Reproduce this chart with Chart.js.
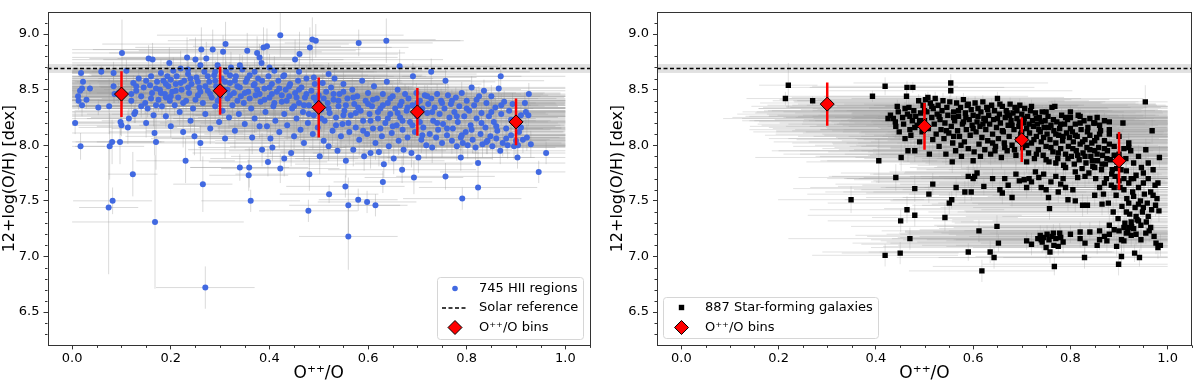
<!DOCTYPE html>
<html>
<head>
<meta charset="utf-8">
<script src="https://cdn.jsdelivr.net/npm/chart.js@4.4.1/dist/chart.umd.min.js"></script>
<style>
  body { margin: 0; background: #fff; }
  .panel { position: absolute; top: 0; width: 600px; height: 384px; }
</style>
</head>
<body>
<div class="panel" style="left:0"><canvas id="hiiChart" width="600" height="384"></canvas></div>
<div class="panel" style="left:600px"><canvas id="sfgChart" width="600" height="384"></canvas></div>
<script>
// Axis ranges and ticks (same for both panels)
const xMin = -0.05, xMax = 1.05;
const yMin = 6.2, yMax = 9.2;
const xTicks = [0.0, 0.2, 0.4, 0.6, 0.8, 1.0];
const yTicks = [6.5, 7.0, 7.5, 8.0, 8.5, 9.0];
const xMinorTicks = [0.05, 0.1, 0.15, 0.25, 0.3, 0.35, 0.45, 0.5, 0.55, 0.65, 0.7, 0.75, 0.85, 0.9, 0.95, 1.05];
const yMinorTicks = [6.3, 6.4, 6.6, 6.7, 6.8, 6.9, 7.1, 7.2, 7.3, 7.4, 7.6, 7.7, 7.8, 7.9, 8.1, 8.2, 8.3, 8.4, 8.6, 8.7, 8.8, 8.9, 9.1];

// Solar reference value and its uncertainty band
const solarValue = 8.69;
const solarBand = [8.65, 8.73];

// Binned medians: left = HII regions, right = star-forming galaxies
const hiiBinX = [0.1, 0.3, 0.5, 0.7, 0.9];
const hiiBinY = [8.46, 8.49, 8.34, 8.30, 8.21];
const hiiBinErr = [0.205, 0.215, 0.27, 0.215, 0.21];
const sfgBinX = [0.3, 0.5, 0.7, 0.9];
const sfgBinY = [8.37, 8.17, 8.05, 7.86];
const sfgBinErr = [0.195, 0.21, 0.2, 0.26];

// HII regions: [O++/O, 12+log(O/H), x error, y error]
const hiiRegions = [
  [.006,8.20,.08,.1],[.017,7.99,.05,.12],[.012,8.44,.1,.06],[.013,8.40,.12,.08],[.016,8.49,.06,.07],[.018,8.65,.15,.05],[.022,8.57,.08,.06],[.02,8.51,.1,.05],[.02,8.36,.14,.1],[.029,8.41,.07,.08],[.036,8.51,.06,.05],[.053,8.34,.09,.07],[.059,8.66,.12,.05],[.074,7.44,.06,.6],[.082,7.50,.08,.12],[.076,7.99,.07,.3],[.081,8.03,.1,.2],[.075,8.35,.13,.25],[.084,8.65,.15,.1],[.084,8.53,.2,.15],[.086,8.46,.1,.08],[.101,8.83,.12,.3],[.097,8.03,.09,.2],[.098,8.21,.2,.12],[.1,8.18,.15,.1],[.094,8.47,.11,.09],
  [.11,8.67,.2,.1],[.113,8.16,.1,.15],[.115,8.24,.12,.09],[.123,7.74,.05,.2],[.126,8.28,.15,.08],[.128,8.30,.2,.1],[.12,8.40,.25,.12],[.124,8.56,.18,.07],[.13,8.49,.3,.1],[.135,8.60,.22,.08],[.14,8.44,.12,.15],[.145,8.52,.28,.09],[.148,8.38,.2,.1],[.15,8.20,.15,.13],[.153,8.33,.26,.08],[.155,8.78,.12,.12],[.158,8.54,.35,.1],[.16,8.62,.2,.07],[.162,8.47,.15,.12],[.163,8.77,.1,.15],[.165,8.27,.3,.1],[.167,8.11,.18,.2],[.168,7.31,.18,.6],[.17,8.03,.12,.25],[.172,8.57,.25,.08],[.175,8.41,.22,.11],[.178,8.50,.3,.09],[.18,8.65,.18,.12],[.182,8.35,.4,.1],[.185,8.58,.15,.08],[.188,8.46,.28,.13],[.19,8.26,.2,.1],[.193,8.62,.32,.09],[.195,8.53,.24,.11],[.197,8.74,.2,.14],[.198,8.40,.35,.12],[.2,8.17,.15,.1],[.2,8.59,.3,.08],
  [.203,8.48,.25,.1],[.205,8.67,.38,.12],[.208,8.36,.2,.09],[.21,8.55,.3,.11],[.212,8.62,.18,.07],[.215,8.43,.4,.1],[.218,8.30,.22,.12],[.22,8.69,.3,.16],[.222,8.50,.26,.08],[.225,8.12,.15,.14],[.227,8.58,.35,.1],[.23,7.86,.1,.2],[.231,8.40,.28,.09],[.233,8.79,.25,.18],[.235,8.64,.2,.1],[.237,8.47,.33,.12],[.24,8.22,.18,.1],[.242,8.55,.3,.09],[.245,8.33,.22,.13],[.248,8.08,.14,.17],[.25,8.77,.3,.2],[.252,8.61,.26,.11],[.255,8.45,.4,.1],[.258,8.52,.2,.08],[.26,8.02,.16,.16],[.262,8.86,.22,.2],[.265,7.65,.06,.25],[.265,8.38,.3,.12],[.268,8.66,.35,.09],[.27,6.72,.1,.19],[.27,8.28,.24,.1],[.272,8.78,.18,.15],[.275,8.49,.32,.1],[.278,8.57,.2,.12],[.28,8.15,.2,.14],[.283,8.43,.36,.09],[.285,8.86,.3,.18],[.288,8.63,.25,.1],[.29,8.35,.28,.13],[.292,8.53,.2,.08],[.295,8.72,.34,.12],[.298,8.21,.18,.1],[.3,8.44,.3,.11],
  [.303,8.60,.25,.1],[.305,8.31,.3,.12],[.306,8.84,.2,.15],[.308,8.50,.38,.09],[.31,8.06,.15,.18],[.311,8.91,.25,.2],[.312,8.66,.3,.1],[.315,8.42,.22,.13],[.318,8.25,.28,.1],[.32,8.56,.35,.09],[.322,8.70,.2,.14],[.325,8.36,.3,.11],[.328,8.47,.25,.1],[.33,8.13,.18,.16],[.332,8.62,.32,.08],[.335,8.53,.28,.12],[.338,8.28,.22,.1],[.34,7.80,.1,.12],[.342,8.44,.35,.1],[.345,8.68,.3,.13],[.348,8.38,.25,.09],[.35,8.19,.2,.14],[.352,8.57,.3,.1],[.355,8.85,.22,.16],[.357,8.48,.4,.11],[.358,7.73,.08,.14],[.359,7.80,.12,.18],[.36,8.63,.28,.09],[.362,7.50,.1,.1],[.363,8.33,.3,.12],[.365,8.07,.2,.15],[.368,8.54,.26,.1],[.37,8.24,.34,.13],[.372,8.45,.22,.08],[.375,8.83,.3,.15],[.377,8.60,.25,.1],[.38,8.79,.28,.12],[.38,8.17,.18,.11],[.382,8.39,.36,.1],[.384,8.74,.2,.14],[.385,7.96,.15,.15],[.388,8.88,.26,.18],[.39,8.51,.3,.1],[.392,8.30,.24,.12],[.395,8.17,.2,.1],[.395,8.89,.15,.16],[.397,7.85,.12,.13],[.398,8.62,.32,.09],
  [.4,8.43,.28,.11],[.402,8.06,.2,.14],[.405,8.55,.35,.1],[.406,7.98,.15,.12],[.408,8.35,.25,.1],[.41,8.67,.3,.13],[.412,8.22,.22,.1],[.415,8.48,.38,.09],[.418,8.58,.25,.12],[.42,8.12,.2,.15],[.422,7.79,.12,.13],[.422,8.99,.25,.2],[.425,8.39,.3,.1],[.428,8.62,.28,.09],[.43,7.88,.15,.16],[.43,8.28,.35,.12],[.433,8.50,.22,.1],[.436,8.18,.3,.13],[.44,8.44,.26,.09],[.442,8.55,.32,.11],[.444,7.93,.2,.12],[.446,8.33,.28,.1],[.45,8.08,.22,.15],[.452,8.77,.3,.18],[.452,8.47,.35,.1],[.455,8.24,.25,.12],[.458,8.58,.3,.09],[.46,8.38,.38,.11],[.461,8.82,.2,.2],[.463,8.14,.26,.13],[.465,8.52,.3,.1],[.468,8.30,.22,.09],[.47,8.02,.18,.16],[.472,8.43,.34,.1],[.475,8.60,.28,.12],[.478,8.20,.3,.1],[.479,7.41,.1,.1],[.48,8.36,.25,.11],[.481,7.74,.15,.15],[.482,8.88,.2,.18],[.485,8.49,.36,.1],[.487,8.95,.25,.2],[.488,8.10,.22,.14],[.49,8.27,.3,.1],[.492,8.55,.26,.09],[.494,8.94,.3,.15],[.495,8.40,.32,.12],[.498,8.16,.24,.11],
  [.5,8.45,.3,.1],[.502,7.90,.18,.16],[.505,8.32,.35,.12],[.508,8.56,.25,.09],[.51,8.04,.22,.14],[.512,8.22,.3,.1],[.515,8.48,.28,.11],[.518,8.38,.36,.1],[.52,7.99,.2,.13],[.521,7.56,.1,.08],[.522,8.29,.26,.12],[.525,8.52,.3,.09],[.528,8.13,.24,.15],[.53,8.41,.32,.1],[.532,8.60,.2,.12],[.535,8.25,.28,.1],[.538,7.95,.22,.14],[.54,8.35,.35,.11],[.542,8.46,.25,.09],[.545,8.08,.3,.13],[.548,8.19,.22,.1],[.55,8.55,.28,.12],[.552,8.31,.34,.1],[.554,7.63,.12,.1],[.555,7.86,.2,.15],[.558,8.42,.3,.09],[.56,7.18,.1,.3],[.56,7.46,.12,.25],[.562,8.12,.26,.12],[.565,8.27,.32,.1],[.568,8.50,.25,.11],[.57,7.96,.22,.15],[.572,8.37,.3,.1],[.575,8.16,.28,.12],[.578,8.44,.34,.09],[.58,7.51,.08,.1],[.581,8.92,.15,.12],[.582,8.05,.25,.14],[.585,8.31,.3,.1],[.588,8.58,.22,.12],[.59,8.22,.35,.1],[.592,7.90,.2,.13],[.595,8.40,.28,.09],[.598,7.49,.1,.1],[.598,8.10,.3,.12],
  [.6,8.47,.3,.1],[.603,8.28,.25,.12],[.605,7.93,.22,.14],[.608,8.35,.35,.1],[.61,8.15,.28,.11],[.612,8.53,.2,.09],[.615,7.46,.05,.1],[.615,8.02,.3,.15],[.618,8.42,.26,.1],[.62,8.24,.32,.12],[.622,7.94,.2,.13],[.625,8.33,.3,.1],[.628,8.08,.25,.14],[.63,7.67,.1,.1],[.63,8.46,.28,.09],[.632,7.83,.18,.12],[.635,8.20,.35,.1],[.637,8.94,.15,.2],[.638,8.57,.22,.12],[.64,8.38,.3,.1],[.642,7.99,.26,.15],[.645,8.28,.32,.11],[.648,8.11,.24,.12],[.65,8.44,.3,.1],[.652,7.88,.2,.14],[.655,8.33,.28,.09],[.658,8.18,.34,.12],[.66,8.50,.25,.1],[.662,8.04,.3,.13],[.664,8.71,.2,.15],[.665,8.25,.32,.1],[.668,8.39,.26,.11],[.669,7.78,.15,.12],[.67,8.14,.3,.1],[.672,7.96,.22,.14],[.675,8.46,.28,.09],[.678,8.31,.34,.12],[.68,8.07,.25,.1],[.682,8.42,.3,.11],[.685,8.21,.28,.12],[.688,7.93,.2,.13],[.69,8.36,.32,.1],[.691,8.62,.22,.12],[.693,7.71,.1,.15],[.695,8.12,.3,.1],[.698,8.47,.26,.09],
  [.7,8.26,.3,.11],[.702,7.89,.2,.14],[.705,8.40,.32,.1],[.708,8.05,.26,.12],[.71,8.33,.3,.1],[.712,8.16,.28,.13],[.715,8.45,.25,.09],[.718,8.00,.3,.12],[.72,8.29,.34,.1],[.722,8.37,.26,.11],[.725,8.10,.28,.12],[.728,8.66,.2,.12],[.728,8.42,.3,.1],[.73,7.98,.25,.14],[.732,8.22,.32,.1],[.735,8.34,.28,.11],[.738,8.07,.3,.12],[.74,8.46,.25,.09],[.742,8.14,.3,.12],[.745,8.28,.27,.1],[.748,8.40,.3,.11],[.75,8.02,.25,.13],[.752,8.19,.28,.1],[.755,8.33,.25,.12],[.757,7.72,.1,.12],[.757,8.58,.2,.1],[.76,8.09,.25,.13],[.762,8.45,.24,.1],[.765,8.25,.26,.11],[.768,8.37,.23,.1],[.77,8.04,.25,.12],[.772,8.15,.22,.1],[.775,8.30,.24,.11],[.778,8.43,.22,.09],[.78,7.99,.23,.13],[.782,8.21,.22,.1],[.785,8.35,.2,.11],[.788,7.89,.15,.12],[.788,8.07,.2,.12],[.79,8.47,.2,.1],[.791,7.52,.12,.1],[.792,8.02,.2,.12],[.795,8.26,.21,.1],[.798,8.12,.2,.11],
  [.8,8.40,.3,.1],[.802,8.00,.28,.12],[.805,8.31,.32,.1],[.808,8.18,.25,.11],[.81,8.52,.3,.1],[.812,8.05,.35,.12],[.815,8.36,.28,.1],[.818,7.98,.3,.13],[.82,8.24,.33,.1],[.823,7.62,.12,.1],[.823,7.84,.25,.12],[.825,8.44,.3,.09],[.828,8.10,.28,.12],[.83,8.29,.35,.1],[.832,8.01,.3,.12],[.835,8.49,.26,.1],[.838,8.16,.32,.11],[.84,8.38,.28,.1],[.842,8.04,.3,.12],[.845,8.26,.34,.1],[.848,8.08,.27,.12],[.85,8.44,.3,.1],[.852,7.99,.32,.12],[.855,8.21,.28,.1],[.858,8.34,.3,.1],[.86,8.06,.35,.12],[.862,8.13,.26,.1],[.865,8.51,.3,.1],[.868,7.95,.28,.12],[.869,8.62,.2,.1],[.87,8.28,.32,.1],[.873,8.02,.3,.12],[.876,8.39,.27,.1],[.88,8.15,.33,.11],[.883,8.00,.3,.12],[.886,8.31,.28,.1],[.89,8.09,.32,.12],[.893,8.37,.3,.1],[.896,7.99,.26,.12],[.9,8.22,.3,.11],[.903,7.89,.28,.1],[.904,8.00,.3,.12],[.906,8.12,.33,.11],[.91,8.27,.3,.1],[.914,8.05,.28,.12],[.918,8.38,.3,.1],[.922,8.07,.32,.12],[.925,8.27,.3,.1],[.926,8.46,.25,.1],[.93,8.01,.3,.12],[.946,7.76,.2,.1],[.961,7.93,.15,.1],
  [.16,8.42,.25,.1],[.17,8.51,.3,.09],[.18,8.47,.2,.1],[.19,8.55,.28,.08],[.2,8.44,.33,.11],[.21,8.49,.25,.1],[.22,8.56,.3,.08],[.225,8.38,.22,.12],[.235,8.52,.28,.1],[.24,8.60,.35,.09],[.25,8.41,.3,.1],[.255,8.57,.25,.08],[.26,8.48,.3,.11],[.27,8.53,.33,.09],[.275,8.62,.28,.1],[.28,8.46,.25,.12],[.29,8.58,.3,.09],[.295,8.40,.35,.1],[.3,8.52,.28,.1],[.31,8.57,.3,.09],[.315,8.50,.25,.11],[.32,8.45,.33,.1],[.33,8.58,.3,.08],[.335,8.40,.28,.12],[.34,8.52,.35,.1],[.35,8.47,.3,.1],[.355,8.60,.25,.09],[.36,8.42,.3,.11],[.37,8.55,.28,.1],[.375,8.50,.33,.09],[.38,8.46,.3,.1],[.385,8.58,.26,.09],[.39,8.41,.3,.12],[.4,8.52,.28,.1],[.405,8.46,.33,.1],[.41,8.38,.3,.12],[.42,8.51,.28,.09],[.425,8.45,.3,.1],[.435,8.40,.33,.11],[.44,8.53,.25,.1],[.45,8.35,.3,.12],[.455,8.43,.28,.1],[.46,8.50,.3,.09],[.47,8.36,.33,.11],[.475,8.46,.3,.1],[.48,8.28,.25,.12],[.49,8.43,.3,.1],[.5,8.38,.28,.11],[.505,8.24,.3,.12],[.51,8.42,.33,.1],[.52,8.33,.3,.11],[.53,8.46,.28,.09],[.535,8.18,.3,.12],[.54,8.40,.25,.1],[.55,8.27,.3,.11],[.555,8.36,.33,.1],[.56,8.20,.3,.12],[.57,8.43,.28,.09],[.575,8.29,.3,.11],[.58,8.34,.33,.1],[.59,8.13,.3,.12],[.6,8.37,.28,.1],[.605,8.22,.3,.11],[.61,8.41,.25,.1],[.62,8.30,.3,.11],[.625,8.15,.33,.12],[.63,8.36,.3,.1],[.64,8.24,.28,.11],[.645,8.42,.3,.09],[.65,8.17,.33,.12],[.66,8.29,.3,.1],[.665,8.36,.28,.11],[.67,8.22,.3,.1],[.68,8.34,.33,.1],[.69,8.18,.3,.12],[.7,8.38,.28,.1],[.705,8.21,.3,.11],[.71,8.09,.33,.12],[.72,8.44,.3,.1],[.73,8.30,.28,.11],[.74,8.20,.3,.12],[.75,8.38,.33,.1],[.76,8.15,.3,.11],[.77,8.40,.28,.1],[.78,8.26,.3,.11],[.79,8.09,.33,.12],[.8,8.33,.3,.1],[.81,8.14,.28,.11],[.82,8.41,.3,.1],[.83,8.20,.33,.12],[.84,8.03,.3,.11],[.85,8.30,.28,.1],[.86,8.17,.3,.11],[.87,8.36,.33,.1],[.88,8.06,.3,.12],[.89,8.23,.28,.1],[.9,8.04,.3,.12],[.91,8.16,.3,.1],[.92,8.30,.3,.11],[.235,8.68,.3,.1],[.26,8.72,.25,.12],[.29,8.66,.3,.1],[.32,8.63,.28,.12],[.34,8.72,.3,.1],[.37,8.66,.33,.11],[.4,8.70,.3,.12],[.43,8.63,.28,.1],[.46,8.66,.3,.11],[.49,8.61,.33,.12],[.52,8.64,.3,.1],[.55,8.48,.28,.1],[.14,8.35,.25,.1],[.15,8.58,.3,.09],[.17,8.36,.28,.11],[.19,8.43,.3,.1],[.12,8.46,.25,.1],[.13,8.53,.22,.09]
];

// Star-forming galaxies: [O++/O, 12+log(O/H), x error, y error]
const sfGalaxies = [
  [.214,8.42,.08,.06],[.22,8.54,.06,.2],[.27,8.40,.04,.04],[.349,7.51,.15,.12],[.393,8.44,.1,.05],[.406,7.86,.12,.2],[.419,8.53,.15,.08],[.419,7.01,.15,.1],[.441,7.71,.2,.12],[.451,7.32,.15,.1],[.45,7.03,.12,.1],[.464,7.42,.2,.12],[.47,7.16,.25,.1],[.48,7.37,.22,.1],[.48,7.61,.25,.12],[.452,7.89,.3,.12],[.466,7.95,.28,.1],
  [.425,8.24,.3,.06],[.43,8.27,.25,.05],[.436,8.24,.35,.08],[.44,8.21,.28,.06],[.441,8.17,.3,.1],[.444,8.35,.3,.06],[.446,8.30,.32,.08],[.448,8.12,.3,.07],[.455,8.25,.35,.06],[.457,8.19,.3,.08],[.46,8.06,.28,.1],[.463,8.44,.25,.07],[.464,8.52,.2,.06],[.465,8.28,.35,.06],[.468,8.34,.3,.08],[.47,8.14,.33,.07],[.472,8.09,.3,.1],[.475,8.22,.35,.06],[.476,8.52,.25,.05],[.478,8.31,.3,.07],[.48,7.95,.28,.1],[.482,8.26,.35,.06],[.485,8.18,.32,.08],[.488,8.40,.3,.06],[.49,8.03,.3,.1],[.492,8.29,.34,.07],[.495,8.12,.3,.08],[.497,8.36,.32,.06],[.5,8.22,.35,.07],
  [.502,8.41,.3,.06],[.505,8.30,.35,.07],[.507,8.43,.28,.05],[.508,8.15,.32,.08],[.51,7.92,.3,.1],[.512,8.38,.35,.06],[.515,8.25,.3,.07],[.517,8.05,.28,.09],[.518,8.33,.36,.06],[.52,8.19,.3,.08],[.522,8.42,.3,.06],[.524,8.10,.33,.09],[.526,8.28,.35,.07],[.528,8.36,.3,.06],[.53,7.99,.3,.1],[.532,8.23,.34,.07],[.534,8.14,.3,.08],[.536,8.31,.35,.06],[.538,8.40,.3,.07],[.54,8.06,.32,.09],[.542,8.20,.34,.07],[.544,7.92,.3,.1],[.546,8.34,.33,.06],[.548,8.27,.35,.07],[.55,8.11,.3,.08],[.552,8.39,.32,.06],[.554,8.56,.2,.08],[.554,8.49,.25,.06],[.555,8.17,.34,.08],[.557,7.85,.3,.1],[.558,8.02,.33,.09],[.56,8.30,.35,.06],[.562,8.22,.3,.07],[.564,7.95,.32,.1],[.566,8.38,.3,.06],[.568,8.13,.34,.08],[.57,8.26,.33,.07],[.572,8.08,.3,.09],[.574,8.34,.35,.06],[.576,7.90,.3,.1],[.578,8.19,.33,.07],[.58,8.41,.3,.06],[.582,8.03,.32,.09],[.584,8.29,.35,.07],[.586,8.14,.3,.08],[.588,8.36,.33,.06],[.59,7.97,.3,.1],[.592,8.23,.34,.07],[.594,8.09,.3,.08],[.596,8.32,.35,.06],[.598,8.18,.32,.07],
  [.509,7.56,.25,.08],[.517,7.65,.2,.1],[.542,7.35,.15,.12],[.551,7.48,.25,.1],[.556,7.51,.22,.08],[.565,7.62,.3,.09],[.583,7.58,.25,.1],[.59,7.04,.3,.08],[.596,7.58,.3,.08],[.59,7.72,.28,.1],[.6,7.70,.3,.08],
  [.6,8.27,.35,.06],[.602,7.94,.3,.1],[.604,8.38,.33,.06],[.606,8.12,.35,.08],[.608,8.21,.3,.07],[.61,8.33,.34,.06],[.612,8.01,.3,.09],[.614,8.17,.35,.07],[.616,8.30,.33,.06],[.618,8.07,.3,.09],[.62,8.39,.32,.06],[.622,8.24,.35,.07],[.624,7.96,.3,.1],[.626,8.14,.34,.08],[.628,8.34,.33,.06],[.63,8.04,.3,.09],[.632,8.27,.35,.07],[.634,8.19,.32,.08],[.636,7.92,.3,.1],[.638,8.36,.34,.06],[.64,8.10,.35,.08],[.642,8.23,.3,.07],[.644,8.31,.33,.06],[.646,7.99,.3,.1],[.648,8.16,.35,.08],[.65,8.42,.3,.06],[.652,8.06,.33,.09],[.654,8.28,.35,.07],[.656,8.20,.3,.07],[.658,7.89,.3,.1],[.66,8.35,.34,.06],[.662,8.12,.33,.08],[.664,8.02,.3,.09],[.666,8.25,.35,.07],[.668,8.31,.32,.06],[.67,7.95,.3,.1],[.672,8.18,.34,.07],[.674,8.08,.33,.09],[.676,8.37,.3,.06],[.678,8.22,.35,.07],[.68,8.00,.3,.1],[.682,8.29,.33,.06],[.684,8.14,.35,.08],[.686,8.34,.3,.06],[.688,7.91,.3,.1],[.69,8.24,.34,.07],[.692,8.05,.33,.09],[.694,8.17,.35,.07],[.696,8.36,.3,.06],[.698,8.10,.32,.08],
  [.603,7.72,.3,.08],[.608,7.75,.28,.1],[.612,7.23,.2,.1],[.618,6.87,.15,.1],[.622,7.63,.3,.08],[.635,7.04,.25,.1],[.64,7.70,.3,.09],[.643,6.99,.2,.1],[.649,7.27,.3,.1],[.652,7.12,.3,.08],[.655,7.60,.3,.08],[.66,7.57,.28,.1],[.665,7.70,.3,.08],[.672,7.64,.3,.09],[.68,7.53,.3,.08],[.688,7.74,.3,.1],[.695,7.68,.3,.08],
  [.7,8.28,.35,.06],[.702,7.98,.3,.1],[.704,8.20,.38,.07],[.706,8.33,.32,.06],[.708,8.06,.35,.09],[.71,8.15,.3,.08],[.712,8.26,.36,.06],[.714,7.93,.32,.1],[.716,8.11,.35,.08],[.718,8.31,.3,.06],[.72,8.02,.38,.09],[.722,8.22,.33,.07],[.724,8.17,.3,.08],[.726,7.88,.35,.1],[.728,8.29,.32,.06],[.73,8.08,.36,.09],[.732,8.19,.3,.07],[.734,7.96,.34,.1],[.736,8.25,.38,.07],[.738,8.12,.3,.08],[.74,8.03,.35,.09],[.742,8.30,.32,.06],[.744,7.91,.36,.1],[.746,8.16,.3,.08],[.748,8.22,.34,.07],[.75,7.99,.38,.1],[.752,8.10,.32,.08],[.754,8.26,.35,.06],[.756,7.85,.3,.1],[.758,8.05,.36,.09],[.76,8.18,.33,.07],[.762,8.34,.3,.06],[.764,7.94,.38,.1],[.766,8.13,.32,.08],[.768,8.35,.35,.06],[.77,8.02,.3,.09],[.772,8.21,.36,.07],[.774,7.88,.33,.1],[.776,8.09,.38,.08],[.778,8.15,.3,.08],[.78,7.97,.35,.1],[.782,8.27,.32,.06],[.784,8.04,.36,.09],[.786,7.82,.3,.1],[.788,8.19,.34,.07],[.79,7.92,.38,.1],[.792,8.11,.32,.08],[.794,8.23,.35,.07],[.796,7.99,.3,.1],[.798,8.07,.36,.09],
  [.705,7.69,.35,.08],[.71,7.62,.3,.1],[.715,7.70,.38,.08],[.72,7.67,.33,.09],[.728,7.76,.3,.08],[.735,7.71,.36,.1],[.74,7.62,.32,.08],[.745,7.74,.35,.09],[.75,7.60,.38,.1],[.755,7.53,.3,.08],[.757,7.43,.34,.1],[.76,7.67,.36,.08],[.77,7.72,.3,.09],[.775,7.58,.38,.1],[.78,7.65,.33,.08],[.785,7.70,.35,.09],[.79,7.62,.3,.08],[.795,7.51,.36,.1],
  [.71,7.14,.3,.08],[.72,7.11,.35,.1],[.733,7.16,.3,.08],[.738,7.19,.38,.09],[.742,7.13,.32,.1],[.745,7.17,.3,.08],[.75,7.08,.36,.1],[.752,7.20,.33,.08],[.756,7.15,.3,.09],[.758,7.04,.35,.1],[.762,7.18,.38,.08],[.766,7.10,.32,.09],[.77,7.16,.3,.1],[.767,6.91,.25,.08],[.775,7.09,.36,.08],[.778,7.21,.33,.09],[.785,7.13,.3,.1],[.8,7.20,.35,.08],
  [.8,8.25,.35,.06],[.802,7.90,.3,.1],[.804,8.12,.38,.08],[.806,8.03,.33,.09],[.808,7.83,.36,.1],[.81,8.19,.3,.07],[.812,7.95,.35,.1],[.814,8.08,.4,.09],[.816,8.27,.32,.06],[.818,7.87,.36,.1],[.82,8.01,.3,.09],[.822,8.14,.38,.08],[.824,7.79,.34,.1],[.826,7.93,.36,.1],[.828,8.22,.3,.07],[.83,8.05,.4,.09],[.832,7.84,.33,.1],[.834,7.98,.36,.1],[.836,8.16,.3,.08],[.838,7.75,.38,.1],[.84,8.09,.34,.09],[.842,7.90,.36,.1],[.844,8.02,.4,.09],[.846,7.81,.32,.1],[.848,8.20,.35,.07],[.85,7.95,.38,.1],[.852,7.70,.3,.1],[.854,8.07,.36,.09],[.856,7.86,.4,.1],[.858,7.98,.33,.1],[.86,7.62,.36,.1],[.862,8.13,.3,.08],[.864,7.78,.38,.1],[.866,7.91,.35,.1],[.868,7.56,.4,.1],[.87,8.04,.32,.09],[.872,7.83,.36,.1],[.874,7.70,.38,.1],[.876,7.95,.3,.1],[.878,7.48,.35,.1],[.88,8.10,.4,.09],[.882,7.87,.33,.1],[.884,7.64,.36,.1],[.886,7.78,.3,.1],[.888,7.40,.38,.1],[.89,7.99,.35,.1],[.892,7.72,.4,.1],[.894,7.55,.32,.1],[.896,7.85,.36,.1],[.898,7.34,.38,.1],
  [.805,7.60,.35,.08],[.81,7.50,.38,.1],[.815,7.71,.3,.08],[.82,7.22,.36,.09],[.825,7.46,.33,.1],[.83,7.12,.4,.08],[.829,6.99,.3,.1],[.835,7.46,.36,.08],[.84,7.22,.38,.09],[.85,7.55,.32,.1],[.855,7.10,.36,.08],[.86,7.23,.4,.09],[.865,7.47,.35,.1],[.87,7.18,.38,.08],[.875,7.14,.33,.09],[.88,7.28,.36,.1],[.89,7.24,.4,.08],[.895,7.09,.35,.09],[.855,8.25,.3,.06],[.87,8.22,.35,.07],[.85,8.20,.38,.07],[.88,8.21,.32,.06],
  [.9,7.92,.35,.1],[.902,7.62,.38,.1],[.904,7.78,.4,.1],[.905,7.00,.3,.1],[.899,6.93,.28,.1],[.906,7.45,.36,.1],[.908,8.20,.33,.08],[.91,7.70,.4,.1],[.912,7.30,.35,.1],[.914,7.88,.38,.1],[.916,7.52,.32,.1],[.918,7.22,.4,.1],[.92,7.66,.36,.1],[.922,7.38,.38,.1],[.924,7.95,.35,.1],[.926,7.27,.4,.1],[.928,7.58,.33,.1],[.93,7.84,.38,.1],[.932,7.03,.3,.08],[.933,7.44,.4,.1],[.935,7.73,.36,.1],[.937,7.33,.38,.1],[.94,7.62,.35,.1],[.942,6.99,.28,.08],[.944,7.50,.4,.1],[.946,7.80,.36,.1],[.948,7.40,.38,.1],[.95,7.66,.42,.1],[.952,7.56,.35,.1],[.954,8.39,.2,.15],[.955,7.96,.38,.1],[.956,7.31,.4,.1],[.958,7.48,.36,.1],[.96,7.70,.42,.1],[.962,7.23,.38,.1],[.965,7.58,.4,.1],[.967,7.42,.35,.1],[.968,8.13,.3,.1],[.97,7.78,.42,.1],[.972,7.18,.38,.1],[.974,7.64,.4,.1],[.976,7.12,.36,.1],[.978,7.52,.42,.1],[.98,7.08,.38,.1],[.982,7.41,.4,.1],[.983,7.89,.35,.1],[.985,7.10,.42,.1],[.945,7.15,.38,.1],[.93,7.25,.4,.1],[.925,7.19,.36,.1],[.915,7.21,.38,.1],[.91,7.26,.35,.1],[.905,7.15,.4,.1],[.92,7.98,.38,.1],
  [.56,8.25,.35,.07],[.57,8.31,.3,.06],[.58,8.21,.33,.08],[.59,8.37,.35,.06],[.6,8.15,.3,.08],[.61,8.26,.34,.07],[.62,8.19,.3,.08],[.63,8.32,.35,.06],[.64,8.02,.33,.09],[.65,8.24,.3,.07],[.66,8.13,.35,.08],[.67,8.29,.32,.06],[.68,8.18,.3,.08],[.69,8.31,.35,.06],[.7,8.12,.33,.08],[.705,8.24,.3,.07],[.71,8.00,.35,.09],[.715,8.19,.32,.08],[.72,8.35,.3,.06],[.725,8.05,.35,.09],[.73,8.24,.33,.07],[.735,8.14,.3,.08],[.74,8.21,.35,.07],[.745,8.07,.32,.09],[.75,8.30,.3,.06],[.755,8.16,.35,.08],[.76,7.98,.33,.1],[.765,8.23,.3,.07],[.77,8.10,.35,.08],[.775,7.93,.32,.1],[.78,8.19,.3,.07],[.785,8.08,.35,.09],[.79,8.25,.33,.07],[.795,7.88,.3,.1],[.8,8.15,.35,.08],[.805,7.97,.32,.1],[.81,8.09,.3,.09],[.815,7.91,.35,.1],[.82,8.20,.33,.07],[.825,8.03,.3,.09],[.83,7.90,.35,.1],[.835,8.12,.32,.08],[.84,7.96,.3,.1],[.845,7.86,.35,.1],[.85,8.04,.33,.09],[.855,7.92,.3,.1],[.86,8.10,.35,.08],[.865,7.83,.32,.1],[.87,7.97,.3,.1],[.875,7.88,.35,.1],[.88,8.01,.33,.09],[.885,7.74,.3,.1],[.89,7.91,.35,.1],[.895,7.79,.32,.1],[.9,7.68,.3,.1],[.905,7.86,.35,.1],[.91,7.60,.33,.1],[.915,7.77,.3,.1],[.92,7.48,.35,.1],[.925,7.70,.32,.1],[.93,7.54,.3,.1],[.935,7.36,.35,.1],[.94,7.47,.33,.1],[.945,7.28,.3,.1],[.95,7.44,.35,.1],[.955,7.21,.32,.1],[.96,7.36,.3,.1],[.965,7.26,.35,.1],[.97,7.55,.33,.1],[.975,7.46,.3,.1],[.98,7.66,.35,.1],[.935,7.20,.32,.1],[.94,7.32,.3,.1],[.925,7.31,.35,.1],[.915,7.40,.33,.1],[.91,7.14,.3,.1],
  [.53,8.26,.35,.07],[.515,8.35,.3,.06],[.5,8.31,.33,.07],[.49,8.22,.35,.08],[.48,8.16,.3,.08],[.47,8.26,.33,.07],[.46,8.33,.3,.06],[.545,8.13,.35,.08],[.56,8.08,.32,.09],[.575,8.00,.3,.1],[.585,8.25,.35,.07],[.6,7.86,.3,.1],[.615,7.90,.33,.1],[.625,8.22,.35,.07],[.645,7.95,.3,.1],[.655,8.37,.32,.06],[.665,7.98,.35,.1],[.675,8.27,.3,.07],[.685,7.96,.33,.1],[.695,8.21,.35,.07],[.71,7.85,.3,.1],[.73,7.92,.33,.1],[.75,7.87,.35,.1],[.77,7.84,.3,.1],[.79,7.80,.32,.1],[.81,7.76,.35,.1],[.83,7.72,.3,.1],[.85,7.80,.33,.1],[.87,7.66,.35,.1],[.89,7.62,.3,.1],[.8,8.30,.35,.06],[.82,8.26,.32,.07],[.84,8.24,.3,.07],[.86,8.18,.35,.07],[.88,8.14,.33,.08],[.9,8.08,.3,.08],[.92,8.02,.35,.09],[.94,7.90,.3,.1],[.96,7.84,.33,.1],[.91,7.97,.35,.1],[.93,7.70,.3,.1],[.95,7.75,.33,.1],[.74,7.15,.35,.08],[.765,7.21,.3,.08],[.78,7.17,.33,.09],[.82,7.16,.35,.08],[.86,7.15,.3,.09],[.88,7.20,.33,.08],[.9,7.23,.35,.08],[.92,7.26,.3,.09]
];

const FONT = '"DejaVu Sans", "Liberation Sans", sans-serif';

// grey band behind the solar reference line
const solarBandPlugin = {
  id: 'solarBand',
  beforeDatasetsDraw(chart) {
    const { ctx, chartArea: a, scales: { y } } = chart;
    const top = y.getPixelForValue(solarBand[1]);
    const bot = y.getPixelForValue(solarBand[0]);
    ctx.save();
    ctx.fillStyle = 'rgba(195,195,195,0.5)';
    ctx.fillRect(a.left, top, a.right - a.left, bot - top);
    ctx.restore();
  }
};

// error bars, drawn just before the dataset that owns them
const errorBarPlugin = {
  id: 'errorBars',
  beforeDatasetDraw(chart, args) {
    const ds = chart.data.datasets[args.index];
    if (!ds.errors) return;
    const { ctx, chartArea: a, scales: { x, y } } = chart;
    ctx.save();
    ctx.beginPath();
    ctx.rect(a.left, a.top, a.right - a.left, a.bottom - a.top);
    ctx.clip();
    ctx.strokeStyle = ds.errorColor;
    ctx.lineWidth = ds.errorWidth;
    ds.data.forEach((p, i) => {
      const [xe, ye] = ds.errors[i];
      const px = x.getPixelForValue(p.x);
      const py = y.getPixelForValue(p.y);
      ctx.beginPath();
      if (xe) {
        ctx.moveTo(x.getPixelForValue(Math.max(p.x - xe, 0)), py);
        ctx.lineTo(x.getPixelForValue(Math.min(p.x + xe, 1)), py);
      }
      if (ye) {
        ctx.moveTo(px, y.getPixelForValue(p.y - ye));
        ctx.lineTo(px, y.getPixelForValue(p.y + ye));
      }
      ctx.stroke();
    });
    ctx.restore();
  }
};

// box frame and minor ticks (matplotlib look)
const framePlugin = {
  id: 'frame',
  afterDraw(chart) {
    const { ctx, chartArea: a, scales: { x, y } } = chart;
    ctx.save();
    ctx.strokeStyle = '#333';
    ctx.lineWidth = 1;
    ctx.strokeRect(Math.round(a.left) + 0.5, Math.round(a.top) + 0.5,
      Math.round(a.right - a.left) - 1, Math.round(a.bottom - a.top) - 1);
    ctx.beginPath();
    xMinorTicks.forEach(v => {
      const px = Math.round(x.getPixelForValue(v)) + 0.5;
      ctx.moveTo(px, a.bottom);
      ctx.lineTo(px, a.bottom + 2.5);
    });
    yMinorTicks.forEach(v => {
      const py = Math.round(y.getPixelForValue(v)) + 0.5;
      ctx.moveTo(a.left, py);
      ctx.lineTo(a.left - 2.5, py);
    });
    ctx.stroke();
    ctx.restore();
  }
};

// legend box inside the plot
const boxLegendPlugin = {
  id: 'boxLegend',
  afterDraw(chart, args, opts) {
    const { ctx } = chart;
    const b = opts.box;
    ctx.save();
    ctx.fillStyle = 'rgba(255,255,255,0.8)';
    ctx.strokeStyle = '#d6d6d6';
    ctx.lineWidth = 1;
    ctx.beginPath();
    ctx.roundRect(b.x + 0.5, b.y + 0.5, b.w, b.h, 3);
    ctx.fill();
    ctx.stroke();
    ctx.font = '13px ' + FONT;
    ctx.textBaseline = 'middle';
    opts.items.forEach((it, i) => {
      const cy = b.y + opts.firstRow + i * opts.rowGap;
      const cx = b.x + opts.markerX;
      if (it.kind === 'dot') {
        ctx.fillStyle = it.color;
        ctx.beginPath();
        ctx.arc(cx, cy, 2.8, 0, Math.PI * 2);
        ctx.fill();
      } else if (it.kind === 'square') {
        ctx.fillStyle = it.color;
        ctx.fillRect(cx - 2.7, cy - 2.7, 5.4, 5.4);
      } else if (it.kind === 'dash') {
        ctx.strokeStyle = '#000';
        ctx.lineWidth = 1.5;
        ctx.setLineDash([4, 2.5]);
        ctx.beginPath();
        ctx.moveTo(cx - 13, cy);
        ctx.lineTo(cx + 13, cy);
        ctx.stroke();
        ctx.setLineDash([]);
      } else if (it.kind === 'diamond') {
        ctx.fillStyle = '#ff0000';
        ctx.strokeStyle = '#000';
        ctx.lineWidth = 1;
        ctx.beginPath();
        ctx.moveTo(cx - 7, cy);
        ctx.lineTo(cx, cy - 7);
        ctx.lineTo(cx + 7, cy);
        ctx.lineTo(cx, cy + 7);
        ctx.closePath();
        ctx.fill();
        ctx.stroke();
      }
      ctx.fillStyle = '#000';
      ctx.fillText(it.label, b.x + opts.textX, cy);
    });
    ctx.restore();
  }
};

function buildChart(canvasId, cfg) {
  const points = cfg.points;
  return new Chart(document.getElementById(canvasId), {
    type: 'scatter',
    data: {
      datasets: [
        {
          label: 'O⁺⁺/O bins',
          data: cfg.binX.map((v, i) => ({ x: v, y: cfg.binY[i] })),
          errors: cfg.binErr.map(e => [0, e]),
          errorColor: '#ff0000',
          errorWidth: 2.5,
          pointStyle: 'rectRot',
          pointRadius: 7,
          backgroundColor: '#ff0000',
          borderColor: '#000',
          borderWidth: 1
        },
        {
          type: 'line',
          label: 'Solar reference',
          data: [{ x: xMin, y: solarValue }, { x: xMax, y: solarValue }],
          borderColor: '#000',
          borderWidth: 1.5,
          borderDash: [4, 2.5],
          pointRadius: 0
        },
        {
          label: cfg.label,
          data: points.map(p => ({ x: p[0], y: p[1] })),
          errors: points.map(p => [p[2], p[3]]),
          errorColor: cfg.errorColor,
          errorWidth: 1,
          pointStyle: cfg.pointStyle,
          pointRadius: cfg.pointRadius,
          backgroundColor: cfg.color,
          borderColor: cfg.color,
          borderWidth: 0
        }
      ]
    },
    options: {
      responsive: false,
      animation: false,
      events: [],
      layout: { padding: cfg.padding },
      plugins: {
        legend: { display: false },
        tooltip: { enabled: false },
        boxLegend: cfg.legend
      },
      scales: {
        x: {
          type: 'linear',
          min: xMin,
          max: xMax,
          afterBuildTicks: s => { s.ticks = xTicks.map(v => ({ value: v })); },
          afterFit: s => { s.height = 38.6; },
          ticks: { font: { family: FONT, size: 13 }, color: '#000', padding: 1, autoSkip: false, maxRotation: 0, callback: v => v.toFixed(1) },
          grid: { drawOnChartArea: false, tickLength: 4, color: '#333' },
          border: { display: false },
          title: { display: true, text: 'O⁺⁺/O', font: { family: FONT, size: 17 }, color: '#000', padding: 0 }
        },
        y: {
          type: 'linear',
          min: yMin,
          max: yMax,
          afterBuildTicks: s => { s.ticks = yTicks.map(v => ({ value: v })); },
          afterFit: s => { s.width = cfg.yWidth; },
          ticks: { font: { family: FONT, size: 13 }, color: '#000', padding: 4, autoSkip: false, callback: v => v.toFixed(1) },
          grid: { drawOnChartArea: false, tickLength: 4, color: '#333' },
          border: { display: false },
          title: { display: true, text: '12+log(O/H) [dex]', font: { family: FONT, size: 16 }, color: '#000', padding: 0 }
        }
      }
    },
    plugins: [solarBandPlugin, errorBarPlugin, framePlugin, boxLegendPlugin]
  });
}

buildChart('hiiChart', {
  points: hiiRegions,
  label: '745 HII regions',
  binX: hiiBinX, binY: hiiBinY, binErr: hiiBinErr,
  pointStyle: 'circle', pointRadius: 3, color: '#4169e1',
  errorColor: 'rgba(150,150,150,0.35)',
  padding: { left: 0, right: 10, top: 1.6, bottom: 0 },
  yWidth: 47.5,
  legend: {
    box: { x: 437, y: 277, w: 146, h: 62 },
    markerX: 18, textX: 42, firstRow: 11.5, rowGap: 19.5,
    items: [
      { kind: 'dot', color: '#4169e1', label: '745 HII regions' },
      { kind: 'dash', label: 'Solar reference' },
      { kind: 'diamond', label: 'O⁺⁺/O bins' }
    ]
  }
});

buildChart('sfgChart', {
  points: sfGalaxies,
  label: '887 Star-forming galaxies',
  binX: sfgBinX, binY: sfgBinY, binErr: sfgBinErr,
  pointStyle: 'rect', pointRadius: 3.8, color: '#000',
  errorColor: 'rgba(150,150,150,0.28)',
  padding: { left: 8, right: 2, top: 1.6, bottom: 0 },
  yWidth: 49,
  legend: {
    box: { x: 63, y: 297, w: 215, h: 41 },
    markerX: 18.5, textX: 42, firstRow: 10.5, rowGap: 20,
    items: [
      { kind: 'square', color: '#000', label: '887 Star-forming galaxies' },
      { kind: 'diamond', label: 'O⁺⁺/O bins' }
    ]
  }
});
</script>
</body>
</html>
